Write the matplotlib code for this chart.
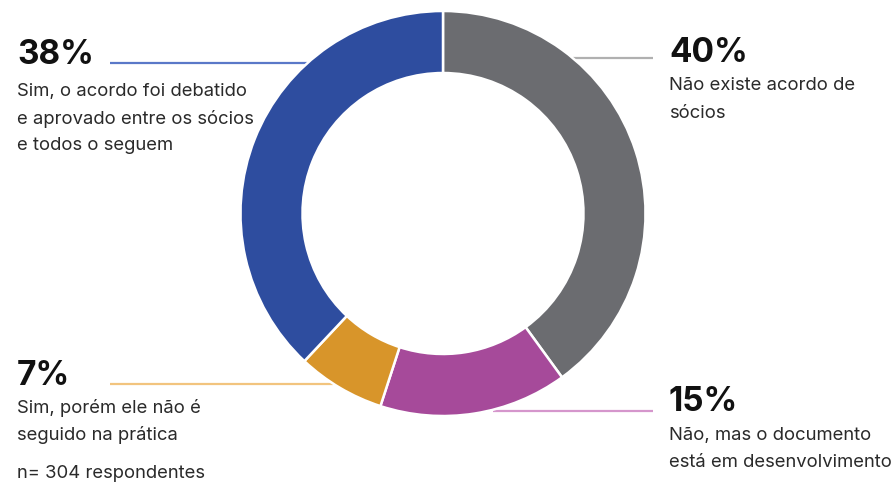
import matplotlib.pyplot as plt

plt.rcParams['font.family'] = ['Inter', 'DejaVu Sans']

# data
labels = ['Não existe acordo de\nsócios',
          'Não, mas o documento\nestá em desenvolvimento',
          'Sim, porém ele não é\nseguido na prática',
          'Sim, o acordo foi debatido\ne aprovado entre os sócios\ne todos o seguem']
values = [40, 15, 7, 38]
colors = ['#6b6c70', '#a64a9a', '#d8952a', '#2e4d9f']
line_colors = ['#b0b0b0', '#d596cc', '#f2c47e', '#5a78c8']
note = 'n= 304 respondentes'

W, H = 893, 490
fig = plt.figure(figsize=(W / 100, H / 100), dpi=100)
ax = fig.add_axes([0, 0, 1, 1])


def py(y):
    # pixel row (from top) to data y
    return H - y


cx, cy, r = 443, py(213.5), 202.5

# leader lines (drawn below the ring)
leaders = [(573, 653, 58.5), (493, 653, 410.5), (110, 333, 384), (110, 307, 63)]
for (x0, x1, y), c in zip(leaders, line_colors):
    ax.plot([x0, x1], [py(y), py(y)], color=c, lw=1.6, zorder=1, solid_capstyle='butt')

ax.pie(values, colors=colors, startangle=90, counterclock=False,
       center=(cx, cy), radius=r,
       wedgeprops=dict(width=62, edgecolor='white', linewidth=1.8, zorder=2))

# labels: (x, percent baseline row, first text baseline row)
spots = [(669, 62, 90.5), (669, 411, 440), (17, 385, 413), (17, 64, 96.5)]
step = 27
for (x, yp, yt), v, lab in zip(spots, values, labels):
    ax.text(x, py(yp), f'{v}%', fontsize=24, fontweight='bold', color='#111111',
            ha='left', va='baseline')
    for i, line in enumerate(lab.split('\n')):
        ax.text(x, py(yt + i * step), line, fontsize=13.3, color='#2a2a2a',
                ha='left', va='baseline')

ax.text(17, py(478), note, fontsize=13.3, color='#2a2a2a', ha='left', va='baseline')

ax.set_xlim(0, W)
ax.set_ylim(0, H)
ax.set_aspect('equal')
ax.axis('off')

fig.savefig('out.png', dpi=100)
